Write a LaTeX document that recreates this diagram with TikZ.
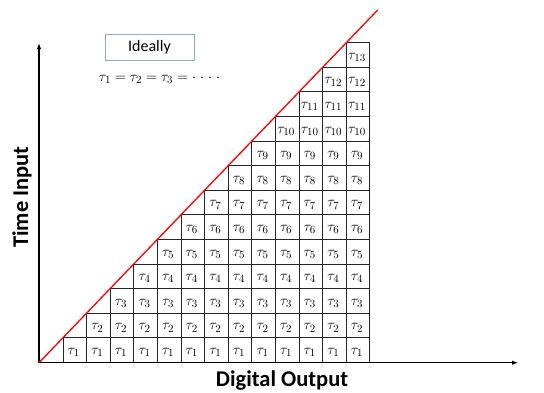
\documentclass[tikz,border=0pt]{standalone}
\usepackage{fontspec}
\setsansfont{Carlito}
\usetikzlibrary{arrows.meta}
\begin{document}
\begin{tikzpicture}[x=1pt,y=-1pt,
  cellbox/.style={draw=black!85, line width=0.7pt, minimum width=23.6pt, minimum height=24.6pt, inner sep=0pt, anchor=south west},
  cellnum/.style={font=\fontsize{15}{15}\selectfont, inner sep=0pt},
  axis/.style={line width=1.4pt, -{Latex[length=6pt,width=4.5pt]}},
  idealbox/.style={draw={rgb,255:red,143;green,170;blue,220}, line width=1pt, minimum width=89pt, minimum height=26pt, font=\sffamily\fontsize{16}{16}\selectfont},
  axlabel/.style={font=\sffamily\bfseries\fontsize{22.5}{22.5}\selectfont, inner sep=0pt}]
\useasboundingbox (0,0) rectangle (544,392);
\foreach \i in {1,...,13}{
  \foreach \j in {1,...,\i}{
    \node[cellbox] (c-\i-\j) at ({39+23.6*\i},{362.7-24.6*(\j-1)}) {};
    \node[cellnum] (t-\i-\j) at ([shift={(-1,2.5)}]c-\i-\j.center) {$\tau_{\j}$};
  }
}
\coordinate (O) at (39,362.7);
\coordinate (xe) at (518,362.7);
\coordinate (ye) at (39,43);
\coordinate (re) at (377.7,10);
\draw[axis] (O) -- (xe);
\draw[axis] (O) -- (ye);
\draw[red, line width=1.3pt] (O) -- (re);
\node[idealbox] (ideal) at (149.5,47) {Ideally};
\node[font=\fontsize{15}{15}\selectfont, inner sep=0pt] (eq) at (159.5,79) {$\tau_1=\tau_2=\tau_3={\cdot}\mkern5mu{\cdot}\mkern5mu{\cdot}\mkern5mu{\cdot}$};
\node[axlabel, rotate=90] (ylab) at (22,197) {Time Input};
\node[axlabel, anchor=base] (xlab) at (282,386) {Digital Output};
\end{tikzpicture}
\end{document}
